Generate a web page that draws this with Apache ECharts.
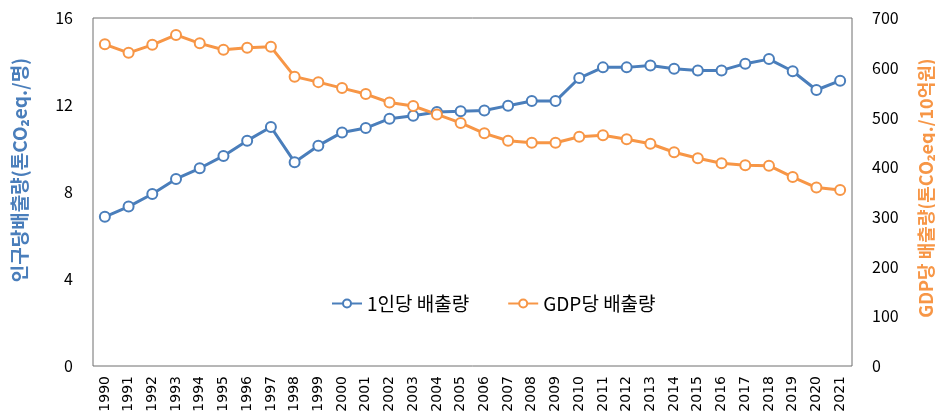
<!DOCTYPE html>
<html>
<head>
<meta charset="utf-8">
<script src="https://cdn.jsdelivr.net/npm/echarts@6/dist/echarts.min.js"></script>
<style>
  html, body { margin: 0; padding: 0; background: #fff; }
  #container { width: 935px; height: 417px; }
</style>
</head>
<body>
<div id="container"></div>
<script>
var years = ['1990','1991','1992','1993','1994','1995','1996','1997','1998','1999','2000','2001','2002','2003','2004','2005',
  '2006','2007','2008','2009','2010','2011','2012','2013','2014','2015','2016','2017','2018','2019','2020','2021'];
var perCapita = [6.86, 7.33, 7.91, 8.60, 9.09, 9.66, 10.36, 10.99, 9.37, 10.13, 10.74, 10.94, 11.37, 11.51, 11.68, 11.71,
  11.75, 11.97, 12.18, 12.18, 13.24, 13.73, 13.73, 13.82, 13.67, 13.59, 13.59, 13.90, 14.11, 13.55, 12.69, 13.12];
var perGdp = [647, 630, 646, 666, 649, 636, 640, 642, 582, 571, 559, 547, 530, 523, 506, 489,
  468, 453, 449, 449, 461, 464, 456, 447, 430, 418, 408, 404, 403, 380, 359, 354];
var leftTicks = [0, 4, 8, 12, 16];
var rightTicks = [0, 100, 200, 300, 400, 500, 600, 700];

var blue = '#4a7ebb';
var orange = '#f79646';
var font = '"Noto Sans CJK KR", "Noto Sans", sans-serif';

var dom = document.getElementById('container');
var myChart = echarts.init(dom, null, {renderer: 'canvas'});

myChart.setOption({
  backgroundColor: '#fff',
  animation: false,
  textStyle: { fontFamily: font },
  grid: {
    left: 93,
    right: 83,
    top: 18,
    bottom: 51,
    containLabel: false,
    outerBoundsMode: 'none',
    show: true,
    borderColor: '#6f6f6f',
    borderWidth: 1
  },
  legend: {
    data: ['1인당 배출량', 'GDP당 배출량'],
    left: 326,
    top: 289,
    itemGap: 38,
    itemWidth: 30,
    itemHeight: 10,
    textStyle: { fontSize: 19, color: '#000', fontFamily: font }
  },
  xAxis: {
    type: 'category',
    data: years,
    boundaryGap: true,
    axisLine: { show: false },
    axisTick: { show: false },
    axisLabel: {
      rotate: 90,
      interval: 0,
      color: '#000',
      fontSize: 14,
      margin: 10,
      fontFamily: 'DejaVu Sans'
    }
  },
  yAxis: [
    {
      type: 'value',
      min: leftTicks[0],
      max: leftTicks[leftTicks.length - 1],
      interval: 4,
      name: '인구당배출량(톤CO₂eq./명)',
      nameLocation: 'middle',
      nameGap: 64,
      nameRotate: 90,
      nameTextStyle: { color: blue, fontSize: 19, fontWeight: 'bold', fontFamily: font, padding: [0, 0, 0, 44] },
      axisLine: { show: false },
      axisTick: { show: false },
      splitLine: { show: false },
      axisLabel: { color: '#000', fontSize: 16, margin: 20 }
    },
    {
      type: 'value',
      min: rightTicks[0],
      max: rightTicks[rightTicks.length - 1],
      interval: 100,
      name: 'GDP당 배출량(톤CO₂eq./10억원)',
      nameLocation: 'middle',
      nameGap: 65,
      nameRotate: 90,
      nameTextStyle: { color: orange, fontSize: 18, fontWeight: 'bold', fontFamily: font, padding: [0, 0, 0, 8] },
      axisLine: { show: false },
      axisTick: { show: false },
      splitLine: { show: false },
      axisLabel: { color: '#000', fontSize: 16, margin: 20 }
    }
  ],
  series: [
    {
      name: '1인당 배출량',
      type: 'line',
      yAxisIndex: 0,
      data: perCapita,
      symbol: 'emptyCircle',
      symbolSize: 10,
      color: blue,
      lineStyle: { width: 3, color: blue },
      itemStyle: { color: blue, borderColor: blue, borderWidth: 3 }
    },
    {
      name: 'GDP당 배출량',
      type: 'line',
      yAxisIndex: 1,
      data: perGdp,
      symbol: 'emptyCircle',
      symbolSize: 10,
      color: orange,
      lineStyle: { width: 3, color: orange },
      itemStyle: { color: orange, borderColor: orange, borderWidth: 3 }
    }
  ]
});
</script>
</body>
</html>
